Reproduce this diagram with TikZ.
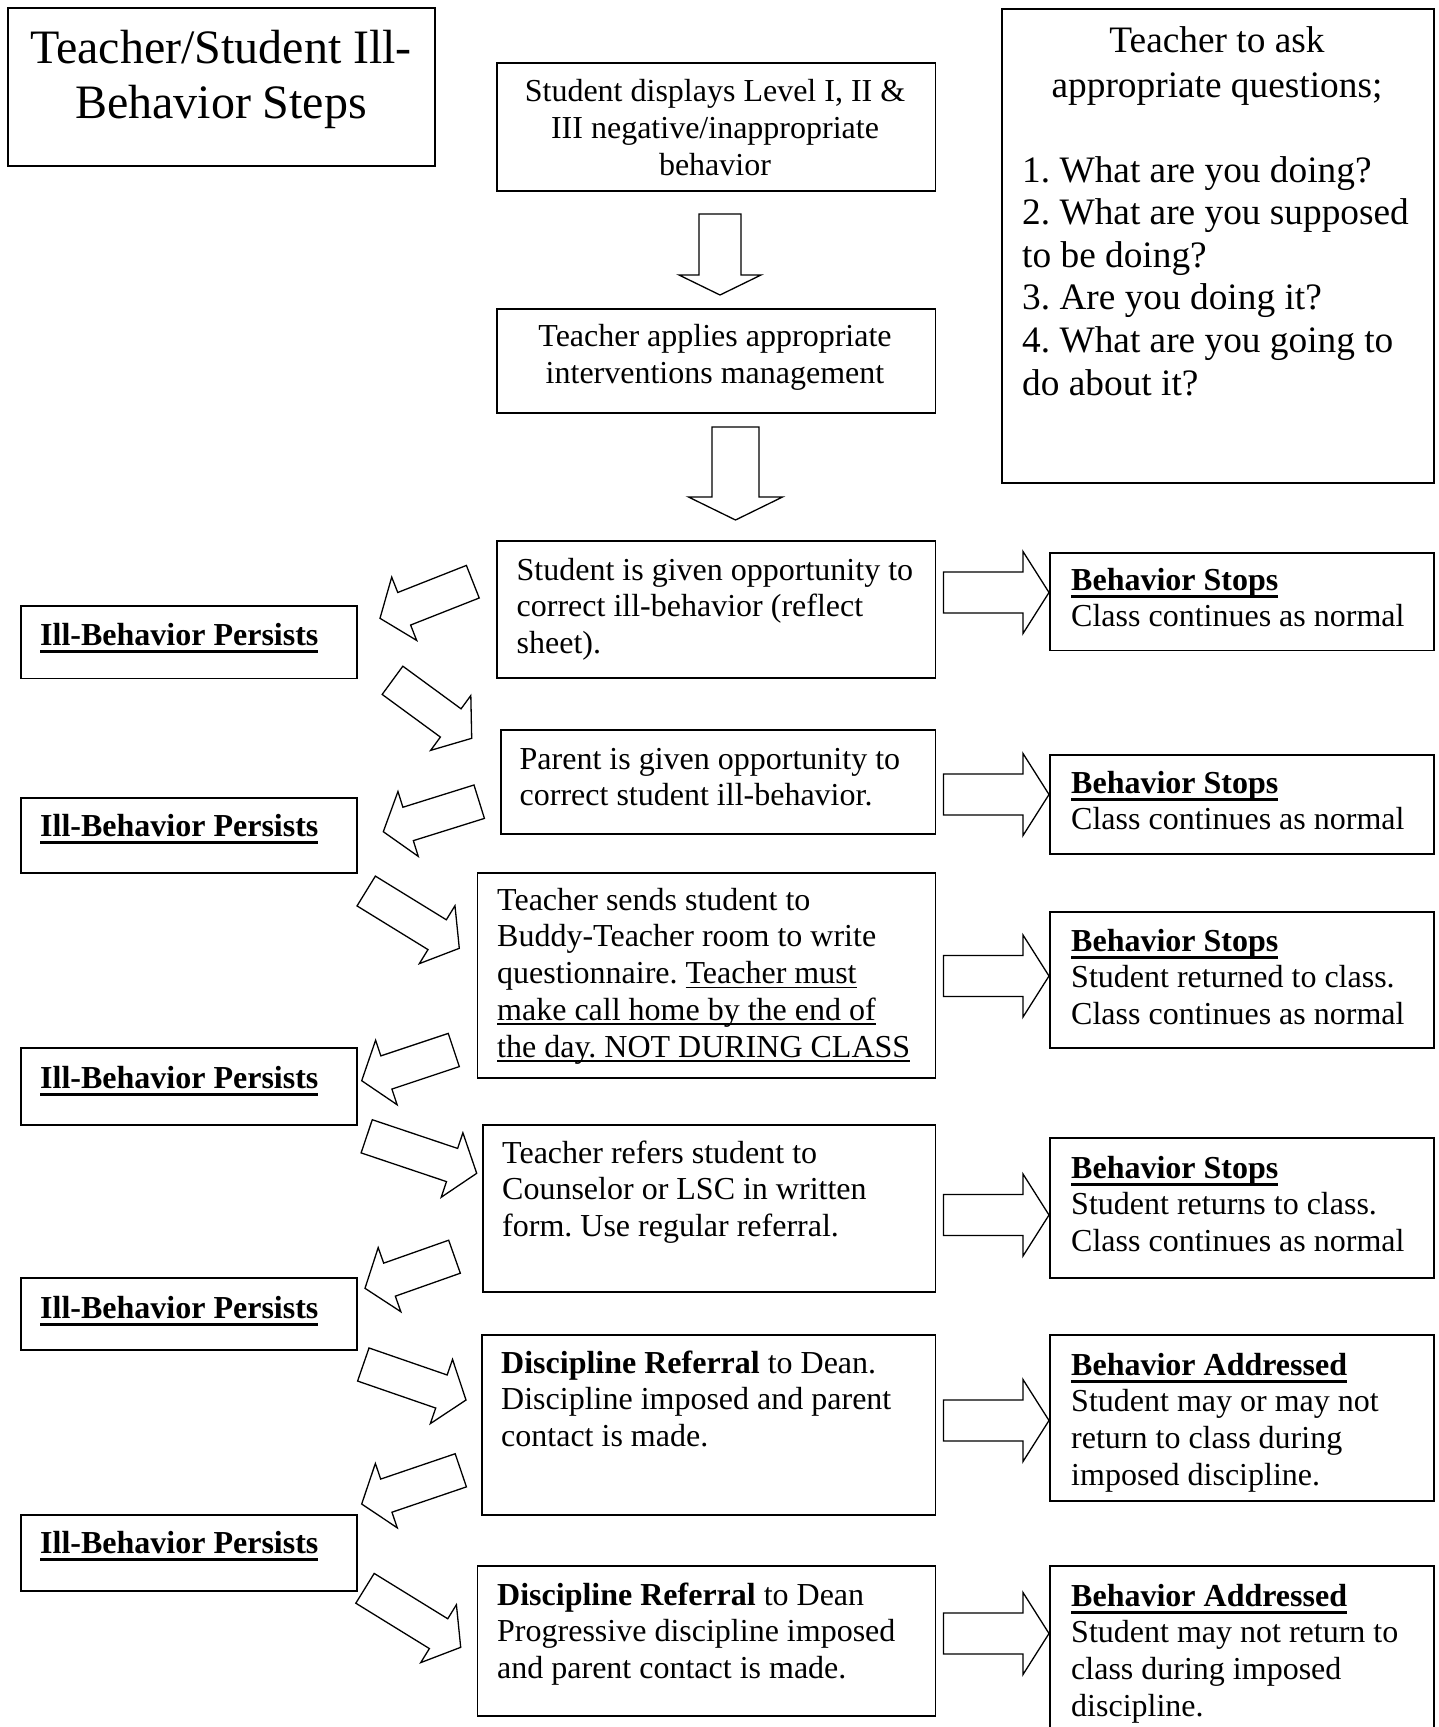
\documentclass[tikz,border=0pt]{standalone}
\usepackage{fontspec}
\setmainfont{Liberation Serif}
\usetikzlibrary{calc}
\frenchspacing
\newdimen\uldepth \uldepth=3pt
\newdimen\ulthick \ulthick=1.8pt
\newcommand\myul[1]{\setbox0\hbox{#1}\rlap{\vrule height -\uldepth depth \dimexpr\uldepth+\ulthick\relax width \wd0}\box0}
\newcommand\bodyfont{\frenchspacing\fontsize{32}{36.8}\selectfont}
\newcommand\titlefont{\frenchspacing\fontsize{48}{55}\selectfont}
\newcommand\qheadfont{\frenchspacing\fontsize{37.33}{45}\selectfont}
\newcommand\qfont{\frenchspacing\fontsize{37.33}{42.6}\selectfont}
\newcommand\Lrows[1]{\vtop{\halign{##\hfil\cr#1\crcr}}}
\newcommand\Crows[1]{\vtop{\halign{\hfil##\hfil\cr#1\crcr}}}
\newcommand\bul[1]{{\uldepth=4.5pt \ulthick=3pt \textbf{\myul{#1}}}}
\newcommand\blkarrow[5]{%
  \coordinate (#2-hb) at ($(#2)!#5!(#1)$);
  \draw[blk] ($(#1)!#3!90:(#2)$) -- ($(#2-hb)!#3!90:(#2)$) -- ($(#2-hb)!#4!90:(#2)$) -- (#2)
    -- ($(#2-hb)!#4!-90:(#2)$) -- ($(#2-hb)!#3!-90:(#2)$) -- ($(#1)!#3!-90:(#2)$) -- cycle;
}
\tikzset{
  box/.style={draw, line width=1.6pt, rectangle, inner sep=0pt, anchor=north west},
  txt/.style={inner sep=0pt, anchor=base west, font=\bodyfont},
  ctxt/.style={inner sep=0pt, anchor=base, font=\bodyfont},
  blk/.style={draw, line width=1.3pt, line join=miter, fill=white},
}
\begin{document}
\begin{tikzpicture}[x=1pt, y=-1pt]
\useasboundingbox (0,0) rectangle (1439,1727);
\fill[white] (0,0) rectangle (1439,1727);
\clip (0,0) rectangle (1439,1727);

% ---- arrow coordinates
\coordinate (d1t) at (720,214);   \coordinate (d1h) at (720,295);
\coordinate (d2t) at (735.5,427); \coordinate (d2h) at (735.5,520);
\coordinate (r1t) at (943.5,592.5);  \coordinate (r1h) at (1049,592.5);
\coordinate (r2t) at (943.5,794.5);  \coordinate (r2h) at (1049,794.5);
\coordinate (r3t) at (943.5,976);    \coordinate (r3h) at (1049,976);
\coordinate (r4t) at (943.5,1215);   \coordinate (r4h) at (1049,1215);
\coordinate (r5t) at (943.5,1420.5); \coordinate (r5h) at (1049,1420.5);
\coordinate (r6t) at (943.5,1633.5); \coordinate (r6h) at (1049,1633.5);
\coordinate (l1t) at (472.8,581.7);  \coordinate (l1h) at (380,618.3);
\coordinate (m1t) at (392.5,680.3);  \coordinate (m1h) at (471.7,738.3);
\coordinate (l2t) at (479.2,801.7);  \coordinate (l2h) at (383.3,831.7);
\coordinate (m2t) at (366.2,891);    \coordinate (m2h) at (459.3,948.3);
\coordinate (l3t) at (453.8,1050);   \coordinate (l3h) at (361.7,1080.7);
\coordinate (m3t) at (366.7,1136.3); \coordinate (m3h) at (476.7,1173.3);
\coordinate (l4t) at (454.5,1256.7); \coordinate (l4h) at (365,1288.3);
\coordinate (m4t) at (363.3,1364.5); \coordinate (m4h) at (466,1400);
\coordinate (l5t) at (460.8,1470.3); \coordinate (l5h) at (361.7,1504);
\coordinate (m5t) at (365,1588.3);   \coordinate (m5h) at (460.7,1647.3);

\blkarrow{d1t}{d1h}{21pt}{41pt}{20pt}
\blkarrow{d2t}{d2h}{23.5pt}{47pt}{23pt}
\foreach \n in {r1,r2,r3,r4,r5,r6}{\blkarrow{\n t}{\n h}{20.5pt}{41pt}{26pt}}
\foreach \n in {l1,m1,l2,m2,l3,m3,l4,m4,l5,m5}{\blkarrow{\n t}{\n h}{17.5pt}{34pt}{26pt}}

% ---- title
\node[box, minimum width=427pt, minimum height=158pt] (title) at (7,7) {};
\node[ctxt, font=\titlefont] (titletext) at (221,63) {\Crows{Teacher/Student Ill-\cr Behavior Steps}};

% ---- questions
\node[box, minimum width=432pt, minimum height=474pt] (qbox) at (1001,8) {};
\node[ctxt, font=\qheadfont] (qhead) at (1217,52) {\Crows{Teacher to ask\cr appropriate questions;}};
\node[txt, font=\qfont] (qlist) at (1022,182) {\Lrows{1. What are you doing?\cr 2. What are you supposed\cr to be doing?\cr 3. Are you doing it?\cr 4. What are you going to\cr do about it?}};

% ---- top centre boxes
\node[box, minimum width=438.5pt, minimum height=128pt] (b1) at (496,62) {};
\node[ctxt] (b1text) at (715,101.5) {\Crows{Student displays Level I, II \&\cr III negative/inappropriate\cr behavior}};
\node[box, minimum width=438.5pt, minimum height=104pt] (b2) at (496,308) {};
\node[ctxt] (b2text) at (715,346.7) {\Crows{Teacher applies appropriate\cr interventions management}};

% ---- centre column
\node[box, minimum width=438.5pt, minimum height=137pt] (ca) at (496,540) {};
\node[txt] (catext) at (516.5,580) {\Lrows{Student is given opportunity to\cr correct ill-behavior (reflect\cr sheet).}};
\node[box, minimum width=434.5pt, minimum height=104pt] (cb) at (500,729) {};
\node[txt] (cbtext) at (519.5,769) {\Lrows{Parent is given opportunity to\cr correct student ill-behavior.}};
\node[box, minimum width=458pt, minimum height=205pt] (cc) at (476.5,872) {};
\node[txt] (cctext) at (497,910) {\Lrows{Teacher sends student to\cr Buddy-Teacher room to write\cr questionnaire. \myul{Teacher must}\cr \myul{make call home by the end of}\cr \myul{the day. NOT DURING CLASS}}};
\node[box, minimum width=452.5pt, minimum height=167pt] (cd) at (482,1124) {};
\node[txt] (cdtext) at (502,1163) {\Lrows{Teacher refers student to\cr Counselor or LSC in written\cr form. Use regular referral.}};
\node[box, minimum width=453.5pt, minimum height=180pt] (ce) at (481,1334) {};
\node[txt] (cetext) at (501,1373) {\Lrows{\textbf{Discipline Referral} to Dean.\cr Discipline imposed and parent\cr contact is made.}};
\node[box, minimum width=458pt, minimum height=150pt] (cf) at (476.5,1565) {};
\node[txt] (cftext) at (497,1605) {\Lrows{\textbf{Discipline Referral} to Dean\cr Progressive discipline imposed\cr and parent contact is made.}};

% ---- left column
\node[box, minimum width=336pt, minimum height=72.5pt] (p1) at (20,605) {};
\node[txt] (p1text) at (40,645) {\bul{Ill-Behavior Persists}};
\node[box, minimum width=336pt, minimum height=75pt] (p2) at (20,797) {};
\node[txt] (p2text) at (40,836.5) {\bul{Ill-Behavior Persists}};
\node[box, minimum width=336pt, minimum height=77pt] (p3) at (20,1047) {};
\node[txt] (p3text) at (40,1088) {\bul{Ill-Behavior Persists}};
\node[box, minimum width=336pt, minimum height=72pt] (p4) at (20,1277) {};
\node[txt] (p4text) at (40,1318) {\bul{Ill-Behavior Persists}};
\node[box, minimum width=336pt, minimum height=76pt] (p5) at (20,1514) {};
\node[txt] (p5text) at (40,1553) {\bul{Ill-Behavior Persists}};

% ---- right column
\node[box, minimum width=384pt, minimum height=97.5pt] (s1) at (1049,552) {};
\node[txt] (s1text) at (1071,590) {\Lrows{\bul{Behavior Stops}\cr Class continues as normal}};
\node[box, minimum width=384pt, minimum height=99pt] (s2) at (1049,754) {};
\node[txt] (s2text) at (1071,793) {\Lrows{\bul{Behavior Stops}\cr Class continues as normal}};
\node[box, minimum width=384pt, minimum height=136pt] (s3) at (1049,911) {};
\node[txt] (s3text) at (1071,951) {\Lrows{\bul{Behavior Stops}\cr Student returned to class.\cr Class continues as normal}};
\node[box, minimum width=384pt, minimum height=140pt] (s4) at (1049,1137) {};
\node[txt] (s4text) at (1071,1178) {\Lrows{\bul{Behavior Stops}\cr Student returns to class.\cr Class continues as normal}};
\node[box, minimum width=384pt, minimum height=166pt] (s5) at (1049,1334) {};
\node[txt] (s5text) at (1071,1375) {\Lrows{\bul{Behavior Addressed}\cr Student may or may not\cr return to class during\cr imposed discipline.}};
\node[box, minimum width=384pt, minimum height=200pt] (s6) at (1049,1565) {};
\node[txt] (s6text) at (1071,1606) {\Lrows{\bul{Behavior Addressed}\cr Student may not return to\cr class during imposed\cr discipline.}};
\end{tikzpicture}
\end{document}
